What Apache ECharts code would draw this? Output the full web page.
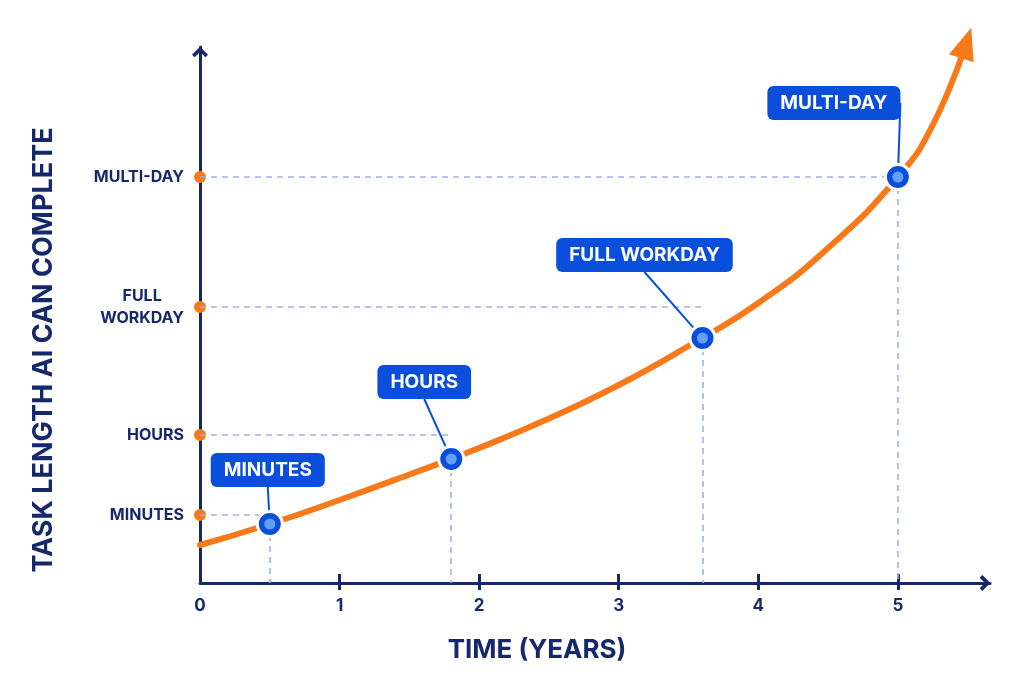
<!DOCTYPE html>
<html>
<head>
<meta charset="utf-8">
<script src="https://cdn.jsdelivr.net/npm/echarts@6/dist/echarts.min.js"></script>
<style>
  html, body {margin: 0; padding: 0; background: #ffffff;}
  #chart {width: 1024px; height: 683px;}
</style>
</head>
<body>
<div id="chart"></div>
<script>
// Task length an AI can complete, over time.
// y values are in arbitrary "task length" units.

const X_TICKS = [0, 1, 2, 3, 4, 5]

const LEVEL_NAMES = ["MINUTES", "HOURS", "FULL\nWORKDAY", "MULTI-DAY"]
const LEVEL_VALUES = [6.8, 14.8, 27.6, 40.6]

const CURVE = [
  [0, 3.8], [0.5, 5.9], [1.0, 8.3], [1.5, 10.85], [2.0, 13.5], [2.5, 16.45],
  [3.0, 19.8], [3.5, 23.7], [4.0, 28.0], [4.5, 33.5], [5.0, 40.6],
  [5.25, 45.8], [5.49, 54.0],
]

const MILESTONE_NAMES = ["MINUTES", "HOURS", "FULL WORKDAY", "MULTI-DAY"]
const MILESTONE_X = [0.5, 1.8, 3.6, 5.0]
const MILESTONE_Y = [5.9, 12.4, 24.5, 40.6]

// where each callout box sits relative to its marker (px)
const CALLOUT_SHIFT = [[-2, -54], [-27, -77], [-58, -83], [-64, -74]]

const NAVY = "#15286c"
const ORANGE = "#f77a1a"
const BLUE = "#0a4fdb"
const DASH = "#9db3e8"
const FONT = "Inter, Roboto, sans-serif"

const chevron = "path://M0,12 L12,0 L24,12 L20,16 L12,8 L4,16 Z"

const levelLines = LEVEL_VALUES.map((v, i) => [
  {coord: [0, v]},
  {coord: [MILESTONE_X[i], v]},
])
const dropLines = MILESTONE_X.map((x, i) => [
  {coord: [x, MILESTONE_Y[i]]},
  {coord: [x, 0]},
])

const chart = echarts.init(document.getElementById("chart"), null, {renderer: "canvas"})

chart.setOption({
  backgroundColor: "#ffffff",
  animation: false,
  grid: {left: 200, right: 34, top: 47, bottom: 100},
  xAxis: [
    {
      type: "value",
      min: 0,
      max: 5.66,
      interval: 1,
      axisLine: {
        show: true,
        lineStyle: {color: NAVY, width: 3},
        symbol: ["none", chevron],
        symbolSize: [16, 11],
        symbolOffset: [0, -5],
      },
      axisTick: {show: true, customValues: X_TICKS.slice(1), length: 7, lineStyle: {color: NAVY, width: 3}},
      axisLabel: {
        customValues: X_TICKS,
        color: NAVY,
        fontFamily: FONT,
        fontWeight: "bold",
        fontSize: 17,
        margin: 14,
      },
      splitLine: {show: false},
    },
    {
      type: "value",
      position: "bottom",
      min: 0,
      max: 5.66,
      interval: 1,
      axisLine: {show: false},
      axisTick: {show: true, inside: true, customValues: X_TICKS.slice(1), length: 9, lineStyle: {color: NAVY, width: 3}},
      axisLabel: {show: false},
      splitLine: {show: false},
    },
  ],
  yAxis: {
    type: "value",
    min: 0,
    max: 53.6,
    axisLine: {
      show: true,
      lineStyle: {color: NAVY, width: 3},
      symbol: ["none", chevron],
      symbolSize: [16, 11],
      symbolOffset: [0, -5],
    },
    axisTick: {show: false},
    axisLabel: {
      customValues: LEVEL_VALUES,
      margin: 16,
      color: NAVY,
      fontFamily: FONT,
      fontWeight: "bold",
      fontSize: 16,
      lineHeight: 22,
      formatter(value) {
        const i = LEVEL_VALUES.indexOf(value)
        if (i < 0) return ""
        return i === 2 ? "{c|FULL}\n{c|WORKDAY}" : LEVEL_NAMES[i]
      },
      rich: {
        c: {
          color: NAVY,
          fontFamily: FONT,
          fontWeight: "bold",
          fontSize: 16,
          lineHeight: 22,
          align: "center",
        },
      },
    },
    splitLine: {show: false},
  },
  graphic: [
    {
      type: "text",
      x: 44,
      y: 350,
      rotation: Math.PI / 2,
      style: {
        text: "TASK LENGTH AI CAN COMPLETE",
        fill: NAVY,
        font: `bold 27px ${FONT}`,
        textAlign: "center",
        textVerticalAlign: "middle",
      },
    },
    {
      type: "text",
      x: 537,
      y: 650,
      style: {
        text: "TIME (YEARS)",
        fill: NAVY,
        font: `bold 26px ${FONT}`,
        textAlign: "center",
        textVerticalAlign: "middle",
      },
    },
  ],
  series: [
    {
      name: "guides",
      type: "line",
      data: [],
      silent: true,
      markLine: {
        silent: true,
        symbol: "none",
        label: {show: false},
        lineStyle: {color: DASH, type: [6, 5], width: 1.6, opacity: 1},
        data: [...levelLines, ...dropLines],
      },
    },
    {
      name: "curve",
      type: "line",
      data: CURVE,
      smooth: true,
      symbol: "none",
      clip: false,
      silent: true,
      lineStyle: {color: ORANGE, width: 6, cap: "round"},
      z: 3,
    },
    {
      name: "arrowhead",
      type: "scatter",
      data: [CURVE[CURVE.length - 1]],
      symbol: "triangle",
      symbolSize: [26, 32],
      symbolRotate: -18,
      clip: false,
      silent: true,
      itemStyle: {color: ORANGE, opacity: 1},
      z: 3,
    },
    {
      name: "levels",
      type: "scatter",
      data: LEVEL_VALUES.map(v => [0, v]),
      symbolSize: 12,
      clip: false,
      silent: true,
      itemStyle: {color: ORANGE, opacity: 1},
      z: 4,
    },
    {
      name: "milestones",
      type: "scatter",
      data: MILESTONE_X.map((x, i) => [x, MILESTONE_Y[i]]),
      symbolSize: 25,
      clip: false,
      silent: true,
      itemStyle: {color: BLUE, borderColor: "#ffffff", borderWidth: 3, opacity: 1},
      label: {
        show: true,
        position: "inside",
        formatter: p => MILESTONE_NAMES[p.dataIndex],
        color: "#ffffff",
        fontFamily: FONT,
        fontWeight: "bold",
        fontSize: 19,
        backgroundColor: BLUE,
        borderRadius: 6,
        padding: [8, 13, 7, 13],
      },
      labelLayout(params) {
        const [dx, dy] = CALLOUT_SHIFT[params.dataIndex]
        return {dx, dy}
      },
      labelLine: {show: true, lineStyle: {color: BLUE, width: 2, opacity: 1}},
      z: 5,
    },
    {
      name: "milestone dots",
      type: "scatter",
      data: MILESTONE_X.map((x, i) => [x, MILESTONE_Y[i]]),
      symbolSize: 11,
      clip: false,
      silent: true,
      itemStyle: {color: "#62a0f8", opacity: 1},
      z: 6,
    },
  ],
})
</script>
</body>
</html>
